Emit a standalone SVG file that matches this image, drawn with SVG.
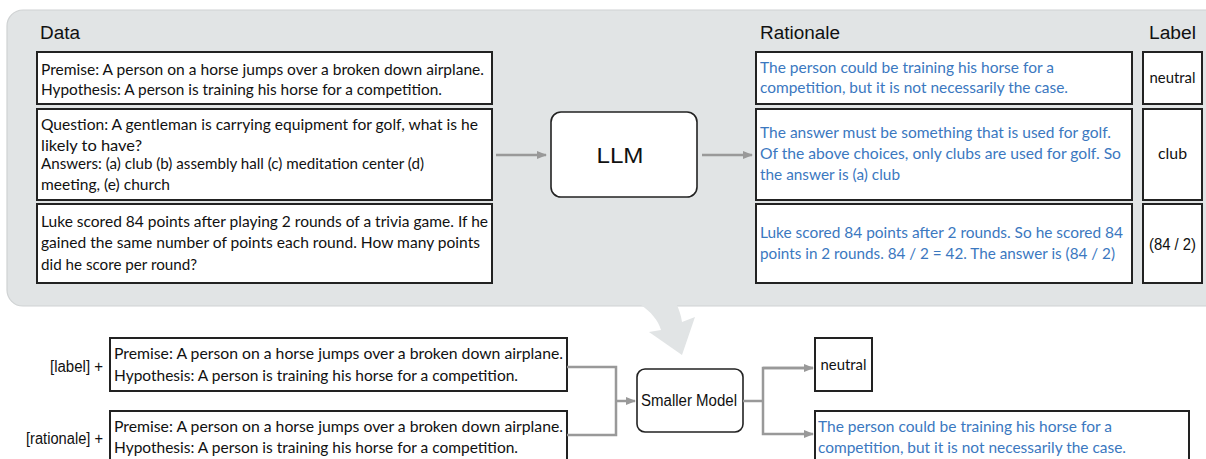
<svg xmlns="http://www.w3.org/2000/svg" width="1206" height="459" viewBox="0 0 1206 459">
<style>
.box{fill:#fff;stroke:#222;stroke-width:2}
.rbox{fill:#fff;stroke:#222;stroke-width:1.6}
.t{font-family:Lato,"Noto Sans",sans-serif;font-size:16px;fill:#111}
.b{font-family:Lato,"Noto Sans",sans-serif;font-size:16px;fill:#3b78bf}
.h{font-family:"Liberation Sans",Arial,sans-serif;font-size:18px;fill:#111}
.s{font-family:"Liberation Sans",Arial,sans-serif;font-size:16px;fill:#111}
.c{fill:none;stroke:#999;stroke-width:2.5}
</style>
<defs>
<marker id="ah" markerWidth="10" markerHeight="10" refX="9" refY="5" orient="auto" markerUnits="userSpaceOnUse">
<path d="M0,1 L10,5 L0,9 Z" fill="#999"/>
</marker>
</defs>
<g id="panel">
<rect x="7" y="10" width="1215" height="296" rx="16" fill="#e1e4e5" stroke="#cfd2d3" stroke-width="1.2"/>
<path d="M641,305 C651,312 658,320 661,330 L649,332 L682,355 L695,317 L682,322 C681,315 679,310 677,305 Z" fill="#e1e4e5"/>
<text class="h" x="40" y="39" textLength="40" lengthAdjust="spacingAndGlyphs">Data</text>
<text class="h" x="760" y="39" textLength="80" lengthAdjust="spacingAndGlyphs">Rationale</text>
<text class="h" x="1149" y="39" textLength="47" lengthAdjust="spacingAndGlyphs">Label</text>
</g>
<g id="data1">
<rect class="box" x="37" y="52" width="455" height="52"/>
<text class="t" x="41" y="75" textLength="443" lengthAdjust="spacingAndGlyphs">Premise: A person on a horse jumps over a broken down airplane.</text>
<text class="t" x="41" y="95" textLength="401" lengthAdjust="spacingAndGlyphs">Hypothesis: A person is training his horse for a competition.</text>
</g>
<g id="data2">
<rect class="box" x="37" y="109" width="455" height="91"/>
<text class="t" x="41" y="130" textLength="437" lengthAdjust="spacingAndGlyphs">Question: A gentleman is carrying equipment for golf, what is he</text>
<text class="t" x="41" y="151" textLength="101" lengthAdjust="spacingAndGlyphs">likely to have?</text>
<text class="t" x="41" y="169" textLength="383" lengthAdjust="spacingAndGlyphs">Answers: (a) club (b) assembly hall (c) meditation center (d)</text>
<text class="t" x="41" y="190" textLength="129" lengthAdjust="spacingAndGlyphs">meeting, (e) church</text>
</g>
<g id="data3">
<rect class="box" x="37" y="204" width="455" height="79"/>
<text class="t" x="41" y="227" textLength="447" lengthAdjust="spacingAndGlyphs">Luke scored 84 points after playing 2 rounds of a trivia game. If he</text>
<text class="t" x="41" y="248" textLength="439" lengthAdjust="spacingAndGlyphs">gained the same number of points each round. How many points</text>
<text class="t" x="41" y="270" textLength="156" lengthAdjust="spacingAndGlyphs">did he score per round?</text>
</g>
<g id="llm">
<rect class="rbox" x="551" y="112" width="146" height="85" rx="10"/>
<text class="h" x="620" y="163" text-anchor="middle" style="font-size:22px" textLength="47" lengthAdjust="spacingAndGlyphs">LLM</text>
</g>
<g id="rat1">
<rect class="box" x="756" y="52" width="376" height="52"/>
<text class="b" x="760" y="73" textLength="294" lengthAdjust="spacingAndGlyphs">The person could be training his horse for a</text>
<text class="b" x="760" y="93" textLength="308" lengthAdjust="spacingAndGlyphs">competition, but it is not necessarily the case.</text>
</g>
<g id="rat2">
<rect class="box" x="756" y="109" width="376" height="91"/>
<text class="b" x="760" y="138" textLength="351" lengthAdjust="spacingAndGlyphs">The answer must be something that is used for golf.</text>
<text class="b" x="760" y="159" textLength="361" lengthAdjust="spacingAndGlyphs">Of the above choices, only clubs are used for golf. So</text>
<text class="b" x="760" y="180" textLength="140" lengthAdjust="spacingAndGlyphs">the answer is (a) club</text>
</g>
<g id="rat3">
<rect class="box" x="756" y="204" width="376" height="79"/>
<text class="b" x="760" y="238" textLength="363" lengthAdjust="spacingAndGlyphs">Luke scored 84 points after 2 rounds. So he scored 84</text>
<text class="b" x="760" y="259" textLength="355" lengthAdjust="spacingAndGlyphs">points in 2 rounds. 84 / 2 = 42. The answer is (84 / 2)</text>
</g>
<g id="lab1">
<rect class="box" x="1143" y="52" width="59" height="52"/>
<text class="t" x="1172.5" y="83" text-anchor="middle" textLength="46" lengthAdjust="spacingAndGlyphs">neutral</text>
</g>
<g id="lab2">
<rect class="box" x="1143" y="109" width="59" height="91"/>
<text class="t" x="1172.5" y="159" text-anchor="middle" textLength="29" lengthAdjust="spacingAndGlyphs">club</text>
</g>
<g id="lab3">
<rect class="box" x="1143" y="204" width="59" height="79"/>
<text class="s" x="1172.5" y="250" text-anchor="middle" textLength="47" lengthAdjust="spacingAndGlyphs">(84 / 2)</text>
</g>
<g id="in1">
<text class="s" x="103" y="372" text-anchor="end" textLength="53" lengthAdjust="spacingAndGlyphs">[label] +</text>
<rect class="box" x="110" y="338" width="457" height="53"/>
<text class="t" x="114" y="359" textLength="449" lengthAdjust="spacingAndGlyphs">Premise: A person on a horse jumps over a broken down airplane.</text>
<text class="t" x="114" y="381" textLength="404" lengthAdjust="spacingAndGlyphs">Hypothesis: A person is training his horse for a competition.</text>
</g>
<g id="in2">
<text class="s" x="103" y="444" text-anchor="end" textLength="77" lengthAdjust="spacingAndGlyphs">[rationale] +</text>
<rect class="box" x="110" y="411" width="457" height="60"/>
<text class="t" x="114" y="432" textLength="449" lengthAdjust="spacingAndGlyphs">Premise: A person on a horse jumps over a broken down airplane.</text>
<text class="t" x="114" y="453" textLength="404" lengthAdjust="spacingAndGlyphs">Hypothesis: A person is training his horse for a competition.</text>
</g>
<g id="small">
<rect class="rbox" x="637" y="369" width="106" height="63" rx="8"/>
<text class="s" x="689" y="406" text-anchor="middle" textLength="96" lengthAdjust="spacingAndGlyphs">Smaller Model</text>
</g>
<g id="out1">
<rect class="box" x="815" y="338" width="57" height="53"/>
<text class="t" x="843.5" y="370" text-anchor="middle" textLength="46" lengthAdjust="spacingAndGlyphs">neutral</text>
</g>
<g id="out2">
<rect class="box" x="815" y="411" width="374" height="60"/>
<text class="b" x="818" y="432" textLength="294" lengthAdjust="spacingAndGlyphs">The person could be training his horse for a</text>
<text class="b" x="818" y="453" textLength="308" lengthAdjust="spacingAndGlyphs">competition, but it is not necessarily the case.</text>
</g>
<g id="connectors">
<line class="c" x1="496" y1="155" x2="546" y2="155" marker-end="url(#ah)"/>
<line class="c" x1="702" y1="155" x2="752" y2="155" marker-end="url(#ah)"/>
<path class="c" d="M567,367 H616 V435 H567"/>
<line class="c" x1="616" y1="401" x2="635" y2="401" marker-end="url(#ah)"/>
<path class="c" d="M743,401 H763"/>
<path class="c" d="M813,368 H763 V434 H813" marker-end="url(#ah)"/>
<line class="c" x1="763" y1="368" x2="813" y2="368" marker-end="url(#ah)"/>
</g>
</svg>
